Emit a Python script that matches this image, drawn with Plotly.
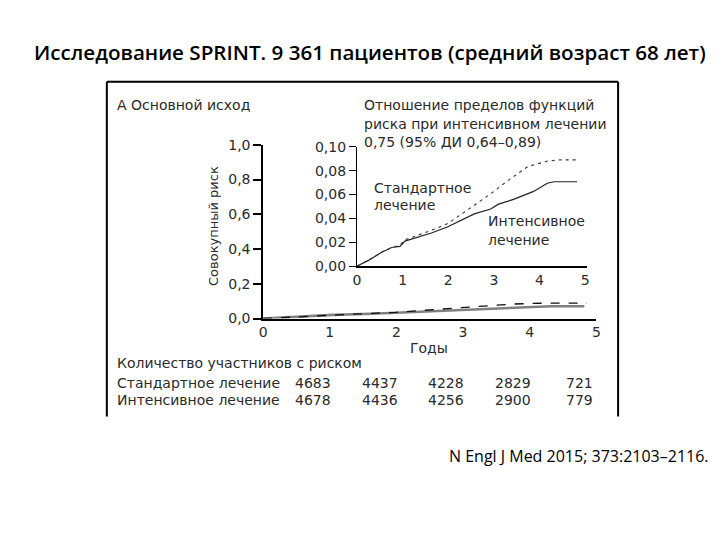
import plotly.graph_objects as go

# ---- data ----
years_standard = [0, 0.25, 0.54, 0.76, 0.94, 1.05, 1.63, 1.99, 2.57, 3.0, 3.3, 3.74, 4.17, 4.46, 4.86]
risk_standard = [0, 0.005, 0.0116, 0.0156, 0.0175, 0.022, 0.030, 0.0357, 0.051, 0.0626, 0.0715, 0.0833, 0.088, 0.089, 0.089]

years_intensive = [0, 0.25, 0.54, 0.76, 0.94, 1.05, 1.63, 1.99, 2.57, 2.93, 3.1, 3.43, 3.87, 4.17, 4.32, 4.82]
risk_intensive = [0, 0.0048, 0.0116, 0.0156, 0.0165, 0.021, 0.0277, 0.033, 0.0438, 0.0478, 0.0519, 0.0559, 0.0626, 0.0694, 0.0707, 0.0707]

main_y_ticks = [0.0, 0.2, 0.4, 0.6, 0.8, 1.0]
main_y_labels = ["0,0", "0,2", "0,4", "0,6", "0,8", "1,0"]
inset_y_ticks = [0.0, 0.02, 0.04, 0.06, 0.08, 0.10]
inset_y_labels = ["0,00", "0,02", "0,04", "0,06", "0,08", "0,10"]
x_ticks = [0, 1, 2, 3, 4, 5]

risk_times = [0, 1, 2, 3, 4]
n_standard = [4683, 4437, 4228, 2829, 721]
n_intensive = [4678, 4436, 4256, 2900, 779]

W, H = 720, 540
def px(x):
    return x / W
def py(y):
    return 1 - y / H

FONT = "DejaVu Sans, Verdana, sans-serif"
TXT = "#2a2a2a"

fig = go.Figure()

# main chart curves
fig.add_trace(go.Scatter(x=years_intensive, y=risk_intensive, mode="lines",
                         line=dict(color="#808080", width=2.6), xaxis="x", yaxis="y",
                         showlegend=False, hoverinfo="skip"))
fig.add_trace(go.Scatter(x=years_standard, y=risk_standard, mode="lines",
                         line=dict(color="#111111", width=1.3, dash="dash"), xaxis="x", yaxis="y",
                         showlegend=False, hoverinfo="skip"))
# inset curves
fig.add_trace(go.Scatter(x=years_intensive, y=risk_intensive, mode="lines",
                         line=dict(color="#222222", width=1.2), xaxis="x2", yaxis="y2",
                         showlegend=False, hoverinfo="skip"))
fig.add_trace(go.Scatter(x=years_standard, y=risk_standard, mode="lines",
                         line=dict(color="#333333", width=1.1, dash="3px,4px"), xaxis="x2", yaxis="y2",
                         showlegend=False, hoverinfo="skip"))

axis_font = dict(family=FONT, size=14, color=TXT)

fig.update_layout(
    width=W, height=H,
    margin=dict(l=0, r=0, t=0, b=0),
    paper_bgcolor="white", plot_bgcolor="rgba(0,0,0,0)",
    xaxis=dict(domain=[px(262), px(599)], range=[0, 5], tickvals=x_ticks,
               ticktext=[str(v) for v in x_ticks], showline=True, linecolor="black",
               linewidth=1.5, ticks="", showgrid=False, zeroline=False,
               tickfont=axis_font, anchor="y", fixedrange=True),
    yaxis=dict(domain=[py(320), py(141)], range=[0, 1.0], tickvals=main_y_ticks,
               ticktext=main_y_labels, showline=True, linecolor="black", linewidth=1.5,
               ticks="outside", ticklen=8, tickwidth=1.5, tickcolor="black",
               showgrid=False, zeroline=False, tickfont=axis_font, anchor="x", fixedrange=True),
    xaxis2=dict(domain=[px(357), px(590)], range=[0, 5.05], tickvals=x_ticks,
                ticktext=[str(v) for v in x_ticks], showline=True, linecolor="black",
                linewidth=2.2, ticks="", showgrid=False, zeroline=False,
                tickfont=axis_font, anchor="y2", fixedrange=True),
    yaxis2=dict(domain=[py(266), py(143)], range=[0, 0.10], tickvals=inset_y_ticks,
                ticktext=inset_y_labels, showline=True, linecolor="black", linewidth=1.3,
                ticks="outside", ticklen=7, tickwidth=1.3, tickcolor="black",
                showgrid=False, zeroline=False, tickfont=axis_font, anchor="x2", fixedrange=True),
)

annotations = []
def text(x, y, s, size=14, anchor="left", family=FONT, color=TXT, angle=0, weight=None):
    f = dict(family=family, size=size, color=color)
    if weight:
        f["weight"] = weight
    annotations.append(dict(x=px(x), y=py(y), xref="paper", yref="paper", text=s,
                            showarrow=False, xanchor=anchor, yanchor="middle",
                            font=f, textangle=angle, borderpad=0))

text(29, 45, "Исследование SPRINT. 9 361 пациентов (средний возраст 68 лет)",
     size=20.6, anchor="left", family="Open Sans, sans-serif", color="black", weight=600)
text(449, 462, "N Engl J Med 2015; 373:2103–2116.", size=16, anchor="left",
     family="Open Sans, sans-serif", color="black")

text(113, 100, "А Основной исход")
text(363, 100, "Отношение пределов функций")
text(363, 120, "риска при интенсивном лечении")
text(363, 138, "0,75 (95% ДИ 0,64–0,89)")
text(373, 185, "Стандартное")
text(373, 203, "лечение")
text(488, 220, "Интенсивное")
text(488, 239, "лечение")
text(212, 225, "Совокупный риск", size=13, anchor="center", angle=-90)
text(430, 350, "Годы", anchor="center")
text(113, 366, "Количество участников с риском")
text(113, 386, "Стандартное лечение")
text(113, 404, "Интенсивное лечение")

for t, a, b in zip(risk_times, n_standard, n_intensive):
    for val, yy in ((a, 386), (b, 404)):
        annotations.append(dict(x=t + 0.75, y=py(yy), xref="x", yref="paper", text=str(val),
                                showarrow=False, xanchor="center", yanchor="middle",
                                font=dict(family=FONT, size=14, color=TXT)))

fig.update_layout(annotations=annotations)

# frame of the figure panel
frame = dict(color="black", width=2)
fig.update_layout(shapes=[
    dict(type="line", xref="paper", yref="paper", x0=px(104), x1=px(104), y0=py(76), y1=py(421), line=frame),
    dict(type="line", xref="paper", yref="paper", x0=px(104), x1=px(621), y0=py(76), y1=py(76), line=frame),
    dict(type="line", xref="paper", yref="paper", x0=px(621), x1=px(621), y0=py(76), y1=py(421), line=frame),
])

fig.write_html("out.html", config={"displayModeBar": False},
               post_script="document.body.style.margin='0';document.body.style.overflow='hidden';")
